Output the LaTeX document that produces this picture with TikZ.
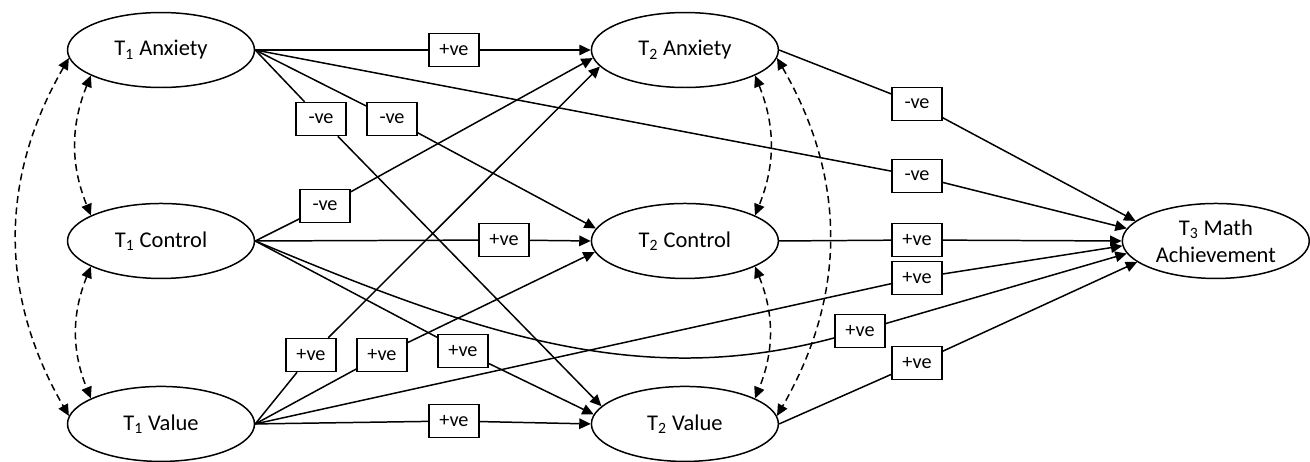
\documentclass[tikz,border=0pt]{standalone}
\usepackage{fontspec}
\setmainfont{Carlito}
\usepackage{tikz}
\usetikzlibrary{arrows.meta,shapes.geometric}

\begin{document}
\begin{tikzpicture}[x=0.02cm,y=-0.02cm,->,>={Triangle[length=6.5pt,width=6pt]},
  line width=0.85pt,node distance=3.74cm,
  main node/.style={ellipse,draw,minimum width=3.74cm,minimum height=1.5cm,
    inner sep=0pt,align=center,font=\fontsize{12.8}{15.4}\selectfont},
  coef/.style={rectangle,draw,fill=white,minimum width=1cm,minimum height=0.66cm,
    inner sep=0pt,font=\fontsize{11.5}{13}\selectfont},
  cov/.style={<->,dash pattern=on 4pt off 2.5pt}]

  \useasboundingbox (0,0) rectangle (1310,461);

  \node[main node] (A1) at (161,50) {T\textsubscript{1} Anxiety};
  \node[main node] (C1) [below of=A1, node distance=3.82cm] {T\textsubscript{1} Control};
  \node[main node] (V1) [below of=C1, node distance=3.66cm] {T\textsubscript{1} Value};
  \node[main node] (A2) [right of=A1, node distance=10.48cm] {T\textsubscript{2} Anxiety};
  \node[main node] (C2) [right of=C1, node distance=10.48cm] {T\textsubscript{2} Control};
  \node[main node] (V2) [right of=V1, node distance=10.48cm] {T\textsubscript{2} Value};
  \node[main node] (M3) [right of=C2, node distance=10.62cm] {T\textsubscript{3} Math\\Achievement};

  \node[coef] (a1a2) at (454,50) {+ve};
  \node[coef] (a1v2) at (321,119) {-ve};
  \node[coef] (a1c2) at (392,119) {-ve};
  \node[coef] (a1m3) at (917,176) {-ve};
  \node[coef] (c1a2) at (325,206) {-ve};
  \node[coef] (c1c2) at (504,240) {+ve};
  \node[coef] (c1v2) at (463,351) {+ve};
  \node[coef] (c1m3) at (860,331) {+ve};
  \node[coef] (v1a2) at (311,355) {+ve};
  \node[coef] (v1c2) at (382,355) {+ve};
  \node[coef] (v1m3) at (917,278) {+ve};
  \node[coef] (v1v2) at (454,421) {+ve};
  \node[coef] (a2m3) at (917,104) {-ve};
  \node[coef] (c2m3) at (917,240) {+ve};
  \node[coef] (v2m3) at (917,363) {+ve};

  \path[-]
    (A1.east) edge (a1a2) edge (a1v2) edge (a1c2) edge (a1m3)
    (C1.east) edge (c1a2) edge (c1c2) edge (c1v2)
    (V1.east) edge (v1a2) edge (v1c2) edge (v1m3) edge (v1v2)
    (A2.east) edge (a2m3)
    (C2.east) edge (c2m3)
    (V2.east) edge (v2m3);
  \draw[-] (C1.east) .. controls (480,335) and (640,390) .. (c1m3);

  \path
    (a1a2) edge (A2.180)
    (c1a2) edge (A2.185)
    (v1a2) edge (A2.191)
    (a1c2) edge (C2.172)
    (c1c2) edge (C2.180)
    (v1c2) edge (C2.187)
    (a1v2) edge (V2.168)
    (c1v2) edge (V2.174)
    (v1v2) edge (V2.180)
    (a2m3) edge (M3.166)
    (a1m3) edge (M3.172)
    (c2m3) edge (M3.180)
    (v1m3) edge (M3.183)
    (c1m3) edge (M3.188)
    (v2m3) edge (M3.195);

  \draw[cov] (A1.200) to[bend right=22] (C1.160);
  \draw[cov] (C1.200) to[bend right=22] (V1.160);
  \draw[cov] (A1.185) to[bend right=30] (V1.175);
  \draw[cov] (A2.340) to[bend left=22] (C2.20);
  \draw[cov] (C2.340) to[bend left=22] (V2.20);
  \draw[cov] (A2.355) to[bend left=30] (V2.5);

\end{tikzpicture}
\end{document}
